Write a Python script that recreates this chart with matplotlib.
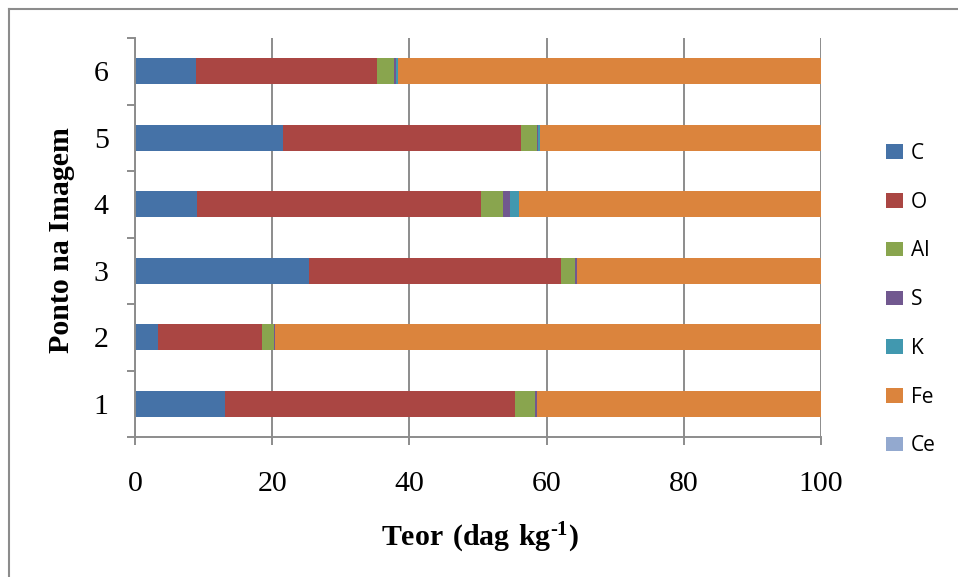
import matplotlib
matplotlib.use("Agg")
import matplotlib.pyplot as plt
import numpy as np
from matplotlib.lines import Line2D

points = ["1", "2", "3", "4", "5", "6"]
elements = ["C", "O", "Al", "S", "K", "Fe", "Ce"]
C = [13.1, 3.3, 25.4, 9.05, 21.6, 8.9]
O = [42.3, 15.2, 36.7, 41.45, 34.7, 26.4]
Al = [2.9, 1.7, 2.1, 3.2, 2.3, 2.4]
S = [0.3, 0.2, 0.3, 0.9, 0.1, 0.3]
K = [0.0, 0.0, 0.0, 1.4, 0.3, 0.3]
Ce = [0.0, 0.0, 0.0, 0.0, 0.0, 0.0]
Fe = [100 - (c + o + a + s + k + e) for c, o, a, s, k, e in zip(C, O, Al, S, K, Ce)]
series = [C, O, Al, S, K, Fe, Ce]
colors = ["#4572A7", "#AA4643", "#89A54E", "#71588F", "#4198AF", "#DB843D", "#93A9CF"]
xticks = [0, 20, 40, 60, 80, 100]

W, H = 958, 577
fig = plt.figure(figsize=(W / 100, H / 100), dpi=100)
ax = fig.add_axes([135 / W, 1 - 437 / H, 686 / W, 399 / H])

y = np.arange(1, len(points) + 1)
left = np.zeros(len(points))
for name, vals, col in zip(elements, series, colors):
    ax.barh(y, vals, left=left, height=0.39, color=col, label=name, linewidth=0)
    left += np.array(vals)

ax.set_xlim(0, 100)
ax.set_ylim(0.5, len(points) + 0.5)
ax.set_axisbelow(True)

gcol = "#8c8c8c"
ax.set_xticks(xticks)
ax.set_xticklabels([str(v) for v in xticks])
ax.xaxis.grid(True, color=gcol, linewidth=1.4)
ax.set_yticks(y)
ax.set_yticklabels(points)
ax.set_yticks(np.arange(0.5, len(points) + 1, 1.0), minor=True)
ax.tick_params(axis="y", which="major", length=0, pad=19)
ax.tick_params(axis="y", which="minor", length=6, width=1.4, color=gcol, direction="out")
ax.tick_params(axis="x", which="major", length=6, width=1.4, color=gcol, direction="out", pad=18.5)
for lab in ax.get_xticklabels() + ax.get_yticklabels():
    lab.set_fontfamily("Liberation Serif")
    lab.set_fontsize(21.5)

for s in ["top", "right"]:
    ax.spines[s].set_visible(False)
for s in ["left", "bottom"]:
    ax.spines[s].set_color(gcol)
    ax.spines[s].set_linewidth(1.4)

plt.rcParams["mathtext.fontset"] = "custom"
plt.rcParams["mathtext.rm"] = "Liberation Serif:bold"
plt.rcParams["mathtext.bf"] = "Liberation Serif:bold"

fig.text(480 / W, 1 - 538 / H, r"$\mathbf{Teor\ (dag\ kg^{\text{-}1})}$", ha="center", va="center",
         fontsize=21.5, fontfamily="Liberation Serif")
fig.text(62 / W, 1 - 240 / H, "Ponto na Imagem", rotation=90, ha="center", va="center",
         fontsize=21.5, fontfamily="Liberation Serif", fontweight="bold")

leg = fig.legend(loc="upper left", bbox_to_anchor=(886 / W, 1 - 143 / H), frameon=False,
                 prop={"family": "Open Sans", "size": 15},
                 handlelength=0.8, handleheight=0.7, handletextpad=0.4, labelspacing=1.33,
                 borderaxespad=0, borderpad=0)

fig.add_artist(Line2D([9 / W, 1], [1 - 9 / H, 1 - 9 / H], transform=fig.transFigure, color=gcol, linewidth=1.5))
fig.add_artist(Line2D([9 / W, 9 / W], [0, 1 - 9 / H], transform=fig.transFigure, color=gcol, linewidth=1.5))

fig.savefig("out.png", dpi=100)
